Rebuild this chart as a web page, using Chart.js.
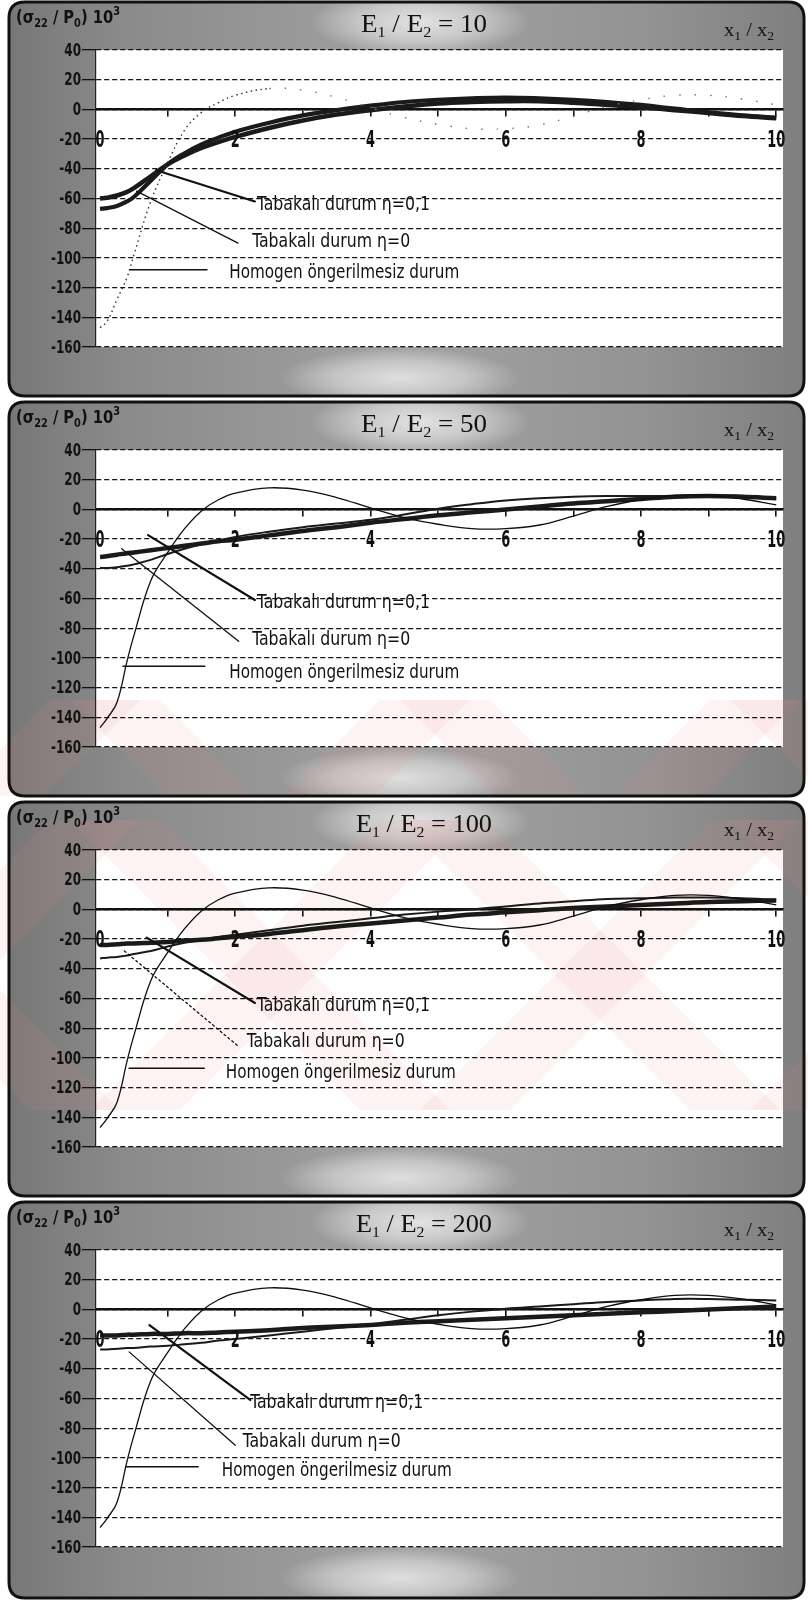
<!DOCTYPE html>
<html>
<head>
<meta charset="utf-8">
<script src="https://cdn.jsdelivr.net/npm/chart.js@4.4.1/dist/chart.umd.min.js"></script>
<style>
  html, body { margin: 0; padding: 0; background: #ffffff; }
  #wrap { position: relative; width: 808px; height: 1602px; }
  .panel { position: absolute; left: 0; width: 808px; }
  canvas { display: block; }
</style>
</head>
<body>
<div id="wrap">
  <div class="panel" style="top:0px"><canvas id="c0" width="808" height="400"></canvas></div>
  <div class="panel" style="top:400px"><canvas id="c1" width="808" height="400"></canvas></div>
  <div class="panel" style="top:800px"><canvas id="c2" width="808" height="400"></canvas></div>
  <div class="panel" style="top:1200px"><canvas id="c3" width="808" height="402"></canvas></div>
</div>
<script>
// ---- data ----------------------------------------------------------------
// x1 / x2 sample positions shared by every curve
const xs = [0, 0.1, 0.25, 0.4, 0.5, 0.75, 1, 1.25, 1.5, 1.75, 2, 2.5, 3, 3.5, 4, 4.5, 5, 5.5, 6, 6.5, 7, 7.5, 8, 8.5, 9, 9.5, 10];

// axis ticks
const xTickValues = [0, 1, 2, 3, 4, 5, 6, 7, 8, 9, 10];
const xLabelValues = [0, 2, 4, 6, 8, 10];
const yTickValues = [-160, -140, -120, -100, -80, -60, -40, -20, 0, 20, 40];

// E1/E2 ratio of each panel
const ratios = ['10', '50', '100', '200'];

// homogeneous, unprestressed case
const homogen10 = [-147, -143, -128, -113, -98, -62, -36, -14, -2, 4.5, 9.5, 14, 13, 8, 1, -5.5, -10, -13, -13, -10.5, -4.5, 2, 6.5, 9.5, 9.5, 7, 3];
const homogen   = [-147, -141, -130, -102, -85, -48, -29, -13, -1, 6.5, 11, 14.5, 13, 8, 1, -5.5, -10, -13, -13, -10.5, -4.5, 2, 6.5, 9.5, 9.5, 7, 3];

// layered case, eta = 0.1
const eta01_10  = [-60, -59.5, -58, -55.5, -53, -45, -37, -31, -26, -22, -18.5, -12.5, -7.5, -3.5, -0.5, 2, 4, 5, 5.5, 5.5, 4.5, 3, 1.5, -0.5, -2.5, -4.5, -6];
const eta01_50  = [-32, -31.5, -30.5, -29.5, -29, -27.5, -26, -24.5, -23, -21.5, -20.5, -17.5, -14.5, -12, -9, -6.5, -4, -2, 0, 2, 4, 5.5, 7, 8.5, 9, 8.5, 7.5];
const eta01_100 = [-24, -24, -23.5, -23, -23, -22.5, -22, -21, -20.5, -19.5, -18.5, -16.5, -14, -11.5, -9.5, -7.5, -5.5, -3.5, -2, -0.5, 1, 2, 3, 4, 5, 5.5, 6];
const eta01_200 = [-17.5, -17.5, -17.5, -17, -17, -16.5, -16.5, -16, -16, -15.5, -15, -14, -12.5, -11.5, -10.5, -9, -8, -7, -6, -5, -4, -3, -2, -1, 0, 1, 2];

// layered case, eta = 0
const eta0_10  = [-67, -66.5, -65, -62, -59, -48, -37, -29.5, -23.5, -19, -15, -9, -4, -0.5, 2.5, 5, 6.5, 7.5, 8, 7.5, 6.5, 5, 3, 0.5, -2, -4, -5.5];
const eta0_50  = [-39.5, -39.5, -39, -38, -37, -34, -30, -26.5, -23.5, -21, -18.5, -15, -12, -9.5, -7, -3.5, 0.5, 3.5, 6, 7.5, 8.5, 9, 9, 9, 9, 8, 7];
const eta0_100 = [-33, -32.5, -32, -31, -30, -28, -25, -22.5, -20.5, -18.5, -17, -14, -11, -8.5, -6, -3.5, -1.5, 0, 2, 4, 5.5, 7, 7.5, 8, 8, 7.5, 6.5];
const eta0_200 = [-27, -27, -26.5, -26, -26, -25, -24.5, -23.5, -22.5, -21, -20, -17.5, -15, -12.5, -10, -7, -4, -1.5, 0.5, 2, 3.5, 5, 6, 7, 7, 6.5, 6];

const legendTexts = ['Tabakalı durum η=0,1', 'Tabakalı durum η=0', 'Homogen öngerilmesiz durum'];

// ---- look ----------------------------------------------------------------
const NARROW = '"Liberation Sans Narrow", "DejaVu Sans Condensed", "Arial Narrow", sans-serif';
const SERIF = '"Liberation Serif", "DejaVu Serif", serif';

// per-panel series + annotation layout (leader lines in axis units)
const panels = [
  { homogen: homogen10, eta0: eta0_10, eta01: eta01_10, dottedHomogen: true, eta0Width: 4.2,
    leaders: [[0.83, -41, 2.29, -62], [0.54, -55, 2.04, -90], [0.44, -108, 1.58, -108]],
    textAt: [[2.32, -64], [2.25, -89], [1.91, -110]], eta0LeaderDash: [], tint: null },
  { homogen: homogen, eta0: eta0_50, eta01: eta01_50, dottedHomogen: false, eta0Width: 2,
    leaders: [[0.71, -17.3, 2.29, -61], [0.32, -26.5, 2.05, -88.8], [0.34, -105.6, 1.55, -105.6]],
    textAt: [[2.32, -63], [2.25, -88], [1.91, -110]], eta0LeaderDash: [], tint: [300, 396] },
  { homogen: homogen, eta0: eta0_100, eta01: eta01_100, dottedHomogen: false, eta0Width: 2,
    leaders: [[0.69, -19, 2.29, -63], [0.36, -28, 2.04, -92], [0.43, -107, 1.54, -107]],
    textAt: [[2.32, -65], [2.17, -89], [1.86, -110]], eta0LeaderDash: [2, 3], tint: [20, 310] },
  { homogen: homogen, eta0: eta0_200, eta01: eta01_200, dottedHomogen: false, eta0Width: 2,
    leaders: [[0.73, -10.6, 2.22, -61], [0.43, -28.6, 2.0, -91.5], [0.38, -106, 1.45, -106]],
    textAt: [[2.22, -63], [2.11, -89], [1.8, -109]], eta0LeaderDash: [], tint: null }
];
const textWidths = [173, 158, 230];

function pts(values) { return xs.map((x, i) => ({ x: x, y: values[i] })); }

function roundRectPath(ctx, x, y, w, h, r) {
  ctx.beginPath();
  ctx.moveTo(x + r, y);
  ctx.lineTo(x + w - r, y);
  ctx.quadraticCurveTo(x + w, y, x + w, y + r);
  ctx.lineTo(x + w, y + h - r);
  ctx.quadraticCurveTo(x + w, y + h, x + w - r, y + h);
  ctx.lineTo(x + r, y + h);
  ctx.quadraticCurveTo(x, y + h, x, y + h - r);
  ctx.lineTo(x, y + r);
  ctx.quadraticCurveTo(x, y, x + r, y);
  ctx.closePath();
}

// rich text (sub/superscripts) squeezed to a given total width
function drawRich(ctx, parts, x, y, align, fitW) {
  let w = 0;
  parts.forEach(p => { ctx.font = p.f; p.w = ctx.measureText(p.t).width; w += p.w; });
  const k = fitW ? fitW / w : 1;
  const left = align === 'center' ? x - (w * k) / 2 : x;
  ctx.save();
  ctx.translate(left, y);
  ctx.scale(k, 1);
  let cx = 0;
  parts.forEach(p => { ctx.font = p.f; ctx.fillText(p.t, cx, (p.dy || 0)); cx += p.w; });
  ctx.restore();
}

function drawFitted(ctx, text, x, y, width, font) {
  ctx.font = font;
  const m = ctx.measureText(text).width;
  ctx.save();
  ctx.translate(x, y);
  ctx.scale(width / m, 1);
  ctx.fillText(text, 0, 0);
  ctx.restore();
}

function drawSqueezed(ctx, text, x, y, k) {
  ctx.save();
  ctx.translate(x, y);
  ctx.scale(k, 1);
  ctx.fillText(text, 0, 0);
  ctx.restore();
}

function softSpot(ctx, cx, cy, rx, ry, color) {
  ctx.save();
  ctx.translate(cx, cy);
  ctx.scale(1, ry / rx);
  const g = ctx.createRadialGradient(0, 0, 0, 0, 0, rx);
  g.addColorStop(0, color);
  g.addColorStop(0.55, color.replace(/[\d.]+\)$/, '0.6)'));
  g.addColorStop(1, color.replace(/[\d.]+\)$/, '0)'));
  ctx.fillStyle = g;
  ctx.fillRect(-rx, -rx, 2 * rx, 2 * rx);
  ctx.restore();
}

// faint pink cross-hatched print mark lying over the middle pages
function pinkMark(ctx, W, y0, y1) {
  ctx.save();
  ctx.beginPath();
  ctx.rect(0, y0, W, y1 - y0);
  ctx.clip();
  ctx.fillStyle = 'rgba(236,140,140,0.10)';
  for (let s = -600; s < 1400; s += 330) {
    ctx.beginPath();
    ctx.moveTo(s, y0 - 10); ctx.lineTo(s + 90, y0 - 10);
    ctx.lineTo(s + 90 + (y1 - y0 + 20), y1 + 10); ctx.lineTo(s + (y1 - y0 + 20), y1 + 10);
    ctx.closePath(); ctx.fill();
    ctx.beginPath();
    ctx.moveTo(s, y0 - 10); ctx.lineTo(s + 90, y0 - 10);
    ctx.lineTo(s + 90 - (y1 - y0 + 20), y1 + 10); ctx.lineTo(s - (y1 - y0 + 20), y1 + 10);
    ctx.closePath(); ctx.fill();
  }
  ctx.restore();
}

const panelFrame = {
  id: 'panelFrame',
  beforeDraw(chart, args, opts) {
    const { ctx, chartArea: a, width: W, height: H } = chart;
    ctx.save();
    ctx.fillStyle = '#ffffff';
    ctx.fillRect(0, 0, W, H);
    roundRectPath(ctx, 9, 2, W - 13, H - 6, 16);
    const g = ctx.createLinearGradient(0, 0, W, 0);
    g.addColorStop(0, '#767676');
    g.addColorStop(0.15, '#8a8a8a');
    g.addColorStop(0.5, '#a2a2a2');
    g.addColorStop(0.8, '#939393');
    g.addColorStop(1, '#7e7e7e');
    ctx.fillStyle = g;
    ctx.fill();
    ctx.clip();
    softSpot(ctx, 420, 22, 110, 34, 'rgba(226,226,226,1)');
    softSpot(ctx, 400, 378, 120, 30, 'rgba(222,222,222,1)');
    ctx.restore();
    ctx.fillStyle = '#ffffff';
    ctx.fillRect(a.left, a.top, a.right - a.left, a.bottom - a.top);
    const p = opts.panel;
    if (p.tint) pinkMark(ctx, W, p.tint[0], p.tint[1]);
  },
  afterDatasetsDraw(chart, args, opts) {
    const { ctx } = chart;
    const p = opts.panel;
    const sx = chart.scales.x, sy = chart.scales.y;
    ctx.save();
    ctx.strokeStyle = '#111';
    ctx.lineCap = 'round';
    const widths = [2.2, 1.3, 1.6];
    p.leaders.forEach((L, i) => {
      ctx.lineWidth = widths[i];
      ctx.setLineDash(i === 1 ? p.eta0LeaderDash : []);
      ctx.beginPath();
      ctx.moveTo(sx.getPixelForValue(L[0]), sy.getPixelForValue(L[1]));
      ctx.lineTo(sx.getPixelForValue(L[2]), sy.getPixelForValue(L[3]));
      ctx.stroke();
    });
    ctx.setLineDash([]);
    ctx.fillStyle = '#111';
    ctx.textBaseline = 'middle';
    ctx.textAlign = 'left';
    p.textAt.forEach((T, i) => {
      drawFitted(ctx, legendTexts[i], sx.getPixelForValue(T[0]), sy.getPixelForValue(T[1]), textWidths[i], '20px ' + NARROW);
    });
    ctx.restore();
  },
  afterDraw(chart, args, opts) {
    const { ctx, width: W, height: H } = chart;
    const sx = chart.scales.x, sy = chart.scales.y;
    ctx.save();
    // panel outline
    roundRectPath(ctx, 9, 2, W - 13, H - 6, 16);
    ctx.lineWidth = 3;
    ctx.strokeStyle = '#111';
    ctx.stroke();
    ctx.fillStyle = '#111';

    // value-axis tick labels, tall and narrow
    ctx.font = 'bold 18px ' + NARROW;
    ctx.textAlign = 'right';
    ctx.textBaseline = 'middle';
    const ky = 30 / ctx.measureText('-160').width;
    yTickValues.forEach(v => drawSqueezed(ctx, String(v), 81, sy.getPixelForValue(v) + 1, ky));

    // position-axis tick labels, sitting one row under the zero line
    ctx.font = 'bold 23px ' + NARROW;
    ctx.textAlign = 'center';
    const kx = 18 / ctx.measureText('10').width;
    const yl = sy.getPixelForValue(0) + 32;
    xLabelValues.forEach(v => drawSqueezed(ctx, String(v), sx.getPixelForValue(v), yl, kx));

    ctx.textAlign = 'left';
    ctx.textBaseline = 'alphabetic';
    // title  E1 / E2 = n
    const t25 = '25px ' + SERIF, t15 = '15px ' + SERIF;
    drawRich(ctx, [
      { t: 'E', f: t25 }, { t: '1', f: t15, dy: 5 }, { t: ' / E', f: t25 }, { t: '2', f: t15, dy: 5 },
      { t: ' = ' + opts.ratio, f: t25 }
    ], 424, 32, 'center', opts.ratio.length === 2 ? 126 : 136);
    // value-axis caption
    const b18 = 'bold 18px ' + NARROW, b12 = 'bold 12px ' + NARROW;
    drawRich(ctx, [
      { t: '(σ', f: b18 }, { t: '22', f: b12, dy: 4 }, { t: ' / P', f: b18 }, { t: '0', f: b12, dy: 4 },
      { t: ') 10', f: b18 }, { t: '3', f: b12, dy: -8 }
    ], 16, 23, 'left', 104);
    // position-axis caption
    const s18 = '18px ' + SERIF, s12 = '12px ' + SERIF;
    drawRich(ctx, [
      { t: 'x', f: s18 }, { t: '1', f: s12, dy: 4 }, { t: ' / x', f: s18 }, { t: '2', f: s12, dy: 4 }
    ], 724, 36, 'left', 50);
    ctx.restore();
  }
};

function makePanel(id, idx) {
  const p = panels[idx];
  const cv = document.getElementById(id);
  const H = cv.height;
  // the homogeneous curve on the first page is a faint dotted trace that fades after its first crest
  const faint = c => p.dottedHomogen && c.p0.parsed.x >= 2.5;
  return new Chart(cv, {
    type: 'line',
    data: {
      datasets: [
        { label: legendTexts[2], data: pts(p.homogen), borderColor: p.dottedHomogen ? '#333' : '#111',
          borderWidth: p.dottedHomogen ? 1.4 : 1.3, borderDash: p.dottedHomogen ? [1.5, 3.5] : [],
          segment: {
            borderDash: c => faint(c) ? [1.5, 14] : undefined,
            borderColor: c => faint(c) ? '#777' : undefined
          },
          pointRadius: 0, tension: 0.4, fill: false },
        { label: legendTexts[1], data: pts(p.eta0), borderColor: '#1a1a1a', borderWidth: p.eta0Width,
          pointRadius: 0, tension: 0.4, fill: false },
        { label: legendTexts[0], data: pts(p.eta01), borderColor: '#1a1a1a', borderWidth: 4.5,
          pointRadius: 0, tension: 0.4, fill: false }
      ]
    },
    options: {
      responsive: false,
      animation: false,
      devicePixelRatio: 1,
      layout: { padding: { top: 50, bottom: H - 347, left: 0, right: 25 } },
      plugins: {
        legend: { display: false },
        tooltip: { enabled: false },
        panelFrame: { panel: p, ratio: ratios[idx] }
      },
      scales: {
        x: {
          type: 'linear', min: -0.06, max: 10.1,
          position: { y: 0 },
          afterBuildTicks: s => { s.ticks = xTickValues.map(v => ({ value: v })); },
          grid: {
            drawOnChartArea: false, drawTicks: true, tickLength: 6, lineWidth: 1.6,
            tickColor: c => (c.tick && c.tick.value === 0) ? 'rgba(0,0,0,0)' : '#111'
          },
          border: { display: true, color: '#111', width: 2.6 },
          ticks: { display: false }
        },
        y: {
          min: -160, max: 40,
          afterBuildTicks: s => { s.ticks = yTickValues.map(v => ({ value: v })); },
          afterFit: s => { s.width = 96; },
          grid: { color: '#111', lineWidth: 1.3, tickLength: 14 },
          border: { display: true, color: '#222', width: 1.2, dash: [5, 3] },
          ticks: { display: false }
        }
      }
    },
    plugins: [panelFrame]
  });
}

['c0', 'c1', 'c2', 'c3'].forEach((id, i) => makePanel(id, i));
</script>
</body>
</html>
